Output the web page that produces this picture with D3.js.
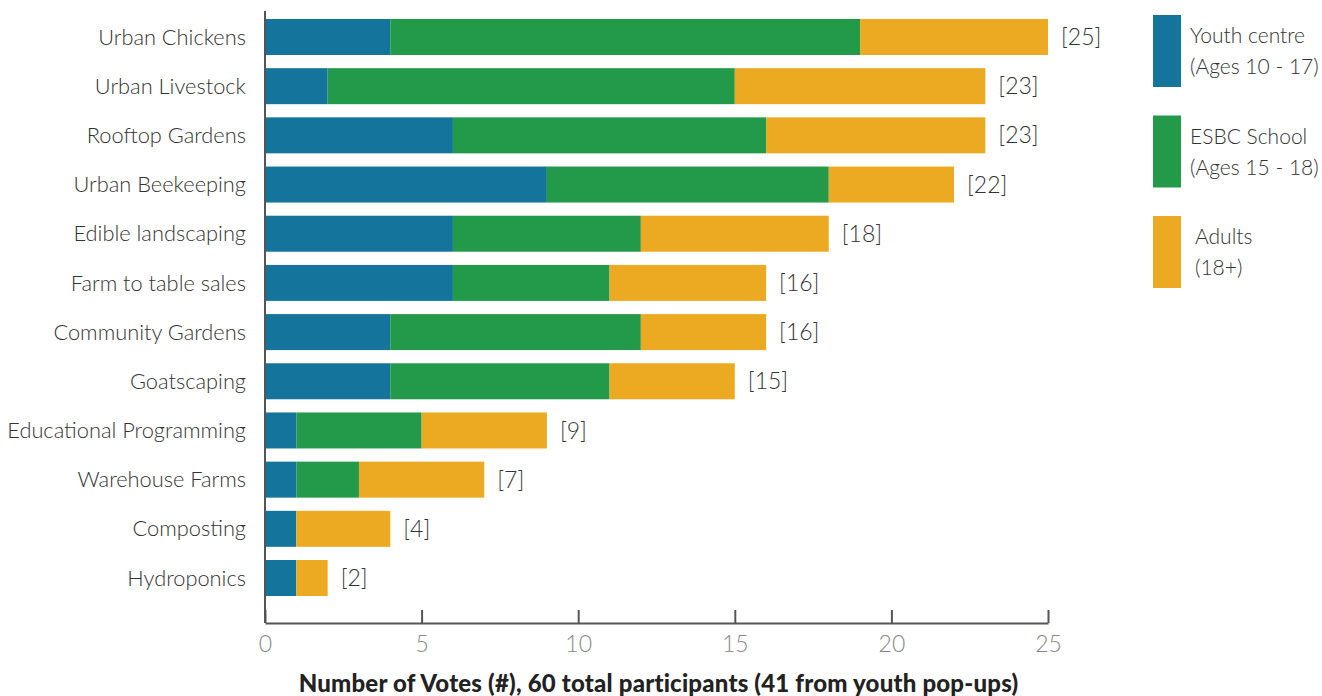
<!DOCTYPE html>
<html>
<head>
<meta charset="utf-8">
<script src="https://cdn.jsdelivr.net/npm/d3@7"></script>
<style>
  body { margin: 0; background: #fff; }
  svg { display: block; font-family: Lato, "Open Sans", sans-serif; }
</style>
</head>
<body>
<div id="graphic"></div>
<script>
'use strict';
(function (d3) {
  const categories = [
    `Urban Chickens`, `Urban Livestock`, `Rooftop Gardens`, `Urban Beekeeping`,
    `Edible landscaping`, `Farm to table sales`, `Community Gardens`, `Goatscaping`,
    `Educational Programming`, `Warehouse Farms`, `Composting`, `Hydroponics`
  ];
  const youth = [4, 2, 6, 9, 6, 6, 4, 4, 1, 1, 1, 1];
  const school = [15, 13, 10, 9, 6, 5, 8, 7, 4, 2, 0, 0];
  const adults = [6, 8, 7, 4, 6, 5, 4, 4, 4, 4, 3, 1];
  const seriesNames = [`Youth centre|(Ages 10 - 17)`, `ESBC School|(Ages 15 - 18)`, `Adults|(18+)`];
  const colors = [`#15749c`, `#239a4a`, `#eca922`];
  const xTicks = [0, 5, 10, 15, 20, 25];
  const xTitle = `Number of Votes (#), 60 total participants (41 from youth pop-ups)`;

  const width = 1322;
  const height = 696;
  const x0 = 265;
  const axisY = 623;

  const data = categories.map((c, i) => ({ name: c, youth: youth[i], school: school[i], adults: adults[i] }));
  const keys = [`youth`, `school`, `adults`];
  const stacked = d3.stack().keys(keys)(data);

  const x = d3.scaleLinear().domain([0, 25]).range([x0, 1048]);
  const y = d3.scaleBand().domain(categories).range([12, 603]).paddingInner(0.268).paddingOuter(0.142);

  const svg = d3.select(`div#graphic`).append(`svg`).attr(`width`, width).attr(`height`, height);

  // Bars
  svg
    .append(`g`)
    .selectAll(`g`)
    .data(stacked)
    .join(`g`)
    .attr(`fill`, (d, i) => colors[i])
    .selectAll(`rect`)
    .data((d) => d)
    .join(`rect`)
    .attr(`x`, (d) => x(d[0]))
    .attr(`y`, (d) => y(d.data.name))
    .attr(`width`, (d) => x(d[1]) - x(d[0]))
    .attr(`height`, y.bandwidth());

  // Totals
  svg
    .append(`g`)
    .attr(`font-size`, 23)
    .attr(`font-weight`, 300)
    .attr(`fill`, `#333`)
    .selectAll(`text`)
    .data(data)
    .join(`text`)
    .attr(`x`, (d) => x(d.youth + d.school + d.adults) + 13)
    .attr(`y`, (d) => y(d.name) + y.bandwidth() / 2)
    .attr(`dy`, `0.35em`)
    .text((d) => `[${d.youth + d.school + d.adults}]`);

  // Category labels
  svg
    .append(`g`)
    .attr(`font-size`, 21.8)
    .attr(`font-weight`, 300)
    .attr(`fill`, `#333`)
    .attr(`text-anchor`, `end`)
    .selectAll(`text`)
    .data(categories)
    .join(`text`)
    .attr(`x`, 246)
    .attr(`y`, (d) => y(d) + y.bandwidth() / 2)
    .attr(`dy`, `0.35em`)
    .text((d) => d);

  // Y axis line
  svg.append(`line`).attr(`x1`, x0).attr(`x2`, x0).attr(`y1`, 11).attr(`y2`, axisY).attr(`stroke`, `#555`).attr(`stroke-width`, 2);

  // X axis
  const xAxis = svg
    .append(`g`)
    .attr(`transform`, `translate(0,${axisY})`)
    .call(d3.axisBottom(x).tickValues(xTicks).tickSizeInner(-13).tickSizeOuter(0).tickPadding(13));
  xAxis.select(`.domain`).attr(`stroke`, `#555`).attr(`stroke-width`, 2);
  xAxis.selectAll(`.tick line`).attr(`stroke`, `#555`).attr(`stroke-width`, 2);
  xAxis.selectAll(`.tick text`).attr(`font-size`, 23).attr(`font-weight`, 300).attr(`fill`, `#888`).attr(`font-family`, `Lato, sans-serif`);

  // Axis title
  svg
    .append(`text`)
    .attr(`x`, (x(0) + x(25)) / 2 + 2)
    .attr(`y`, 684)
    .attr(`dy`, `0.35em`)
    .attr(`text-anchor`, `middle`)
    .attr(`font-size`, 24)
    .attr(`font-weight`, 900)
    .attr(`letter-spacing`, 0.2)
    .attr(`fill`, `#222`)
    .text(xTitle);

  // Legend
  const legend = svg
    .append(`g`)
    .selectAll(`g`)
    .data(seriesNames)
    .join(`g`)
    .attr(`transform`, (d, i) => `translate(1153,${15 + i * 100.5})`);
  legend.append(`rect`).attr(`width`, 28).attr(`height`, 72).attr(`fill`, (d, i) => colors[i]);
  legend
    .append(`text`)
    .attr(`font-size`, 21)
    .attr(`font-weight`, 300)
    .attr(`fill`, `#333`)
    .selectAll(`tspan`)
    .data((d, i) => d.split(`|`).map((t) => ({ t, i })))
    .join(`tspan`)
    .attr(`x`, (d) => (d.i === 2 ? 42 : 37))
    .attr(`y`, (d, j) => 21 + j * 31)
    .attr(`dy`, `0.35em`)
    .text((d) => d.t);
})(d3);
</script>
</body>
</html>
